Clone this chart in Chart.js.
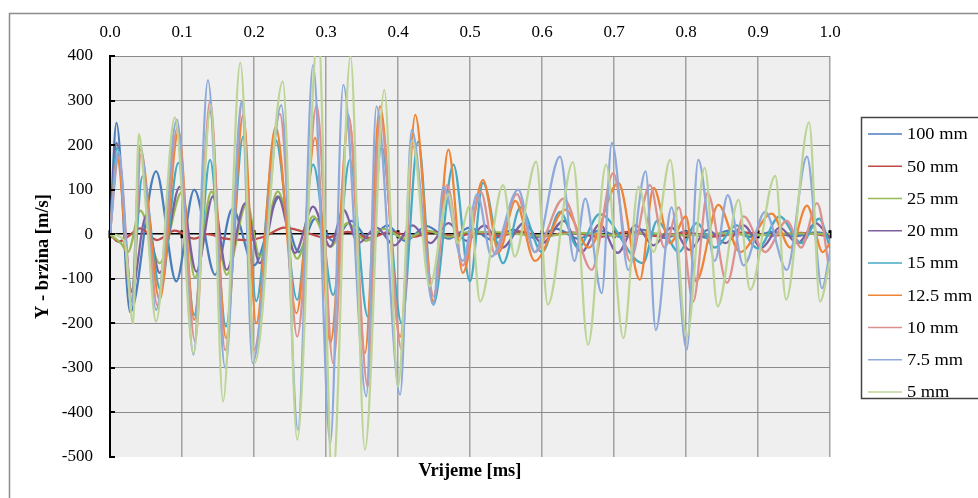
<!DOCTYPE html>
<html>
<head>
<meta charset="utf-8">
<script src="https://cdn.jsdelivr.net/npm/chart.js@4.4.1/dist/chart.umd.min.js"></script>
<style>
  html, body { margin: 0; padding: 0; background: #fff; }
  #wrap { width: 978px; height: 498px; }
</style>
</head>
<body>
<div id="wrap"><canvas id="chVelocity" width="978" height="498"></canvas></div>
<script>
// series names (legend order)
let seriesNames = ['100 mm', '50 mm', '25 mm', '20 mm', '15 mm', '12.5 mm', '10 mm', '7.5 mm', '5 mm'];
let xTicks = [0, 0.1, 0.2, 0.3, 0.4, 0.5, 0.6, 0.7, 0.8, 0.9, 1.0];
let yTicks = [-500, -400, -300, -200, -100, 0, 100, 200, 300, 400];

// time [ms] / velocity [m/s] (turning points)
let t100 = [0, 0.009, 0.028, 0.064, 0.092, 0.117, 0.146, 0.170, 0.200, 0.235, 0.262, 0.285, 0.310, 0.335, 0.360, 0.385, 0.410, 0.440, 0.470, 0.500, 0.530, 0.560, 0.590, 0.620, 0.650, 0.680, 0.710, 0.740, 0.770, 0.800, 0.830, 0.860, 0.890, 0.920, 0.950, 0.980, 1.0];
let v100 = [0, 250, -175, 141, -106, 100, -91, 57, -70, 83, -40, 35, -15, 30, -12, 20, -15, 18, -10, 15, -12, 10, -8, 12, -10, 8, -6, 10, -8, 6, -8, 8, -6, 5, -5, 4, 0];

let t50 = [0, 0.012, 0.025, 0.042, 0.065, 0.090, 0.117, 0.135, 0.160, 0.190, 0.215, 0.242, 0.270, 0.300, 0.330, 0.360, 0.390, 0.420, 0.450, 0.480, 0.510, 0.540, 0.570, 0.600, 0.640, 0.680, 0.720, 0.760, 0.800, 0.840, 0.880, 0.920, 0.960, 1.0];
let v50 = [0, -17, -5, 13, -13, 8, -10, 0, -10, -13, -5, 15, 5, -8, 5, -8, 6, -6, 5, -5, 4, -4, 6, -5, 4, -6, 5, -4, 3, -5, 4, -3, 3, -5];

let t25 = [0, 0.015, 0.025, 0.042, 0.069, 0.100, 0.118, 0.141, 0.162, 0.190, 0.208, 0.233, 0.260, 0.282, 0.306, 0.330, 0.355, 0.380, 0.410, 0.440, 0.470, 0.500, 0.550, 0.600, 0.650, 0.700, 0.750, 0.800, 0.850, 0.900, 0.950, 1.0];
let v25 = [0, -20, -40, 53, -65, 95, -98, 96, -91, 70, -50, 96, -55, 40, -28, 25, -15, 12, -10, 8, -6, 5, 3, -4, 3, -3, 2, -3, 2, -2, 2, 0];

let t20 = [0, 0.009, 0.030, 0.050, 0.069, 0.097, 0.120, 0.143, 0.162, 0.188, 0.208, 0.233, 0.257, 0.282, 0.306, 0.324, 0.345, 0.370, 0.395, 0.420, 0.445, 0.470, 0.495, 0.520, 0.545, 0.575, 0.600, 0.630, 0.655, 0.680, 0.705, 0.730, 0.755, 0.780, 0.805, 0.830, 0.855, 0.880, 0.905, 0.930, 0.955, 0.980, 1.0];
let v20 = [0, 205, -129, 40, -87, 107, -84, 85, -80, 70, -65, 85, -42, 62, -28, 55, -20, 15, -25, 20, -20, 25, -15, 20, -30, 25, -20, 30, -40, 22, -42, 20, -25, 15, -35, 10, -20, 20, -30, 15, -20, 25, -10];

let t15 = [0, 0.010, 0.030, 0.045, 0.070, 0.095, 0.117, 0.139, 0.161, 0.185, 0.203, 0.230, 0.260, 0.282, 0.310, 0.333, 0.358, 0.377, 0.405, 0.428, 0.449, 0.477, 0.500, 0.518, 0.546, 0.570, 0.600, 0.625, 0.650, 0.680, 0.740, 0.760, 0.790, 0.815, 0.840, 0.870, 0.900, 0.930, 0.960, 0.985, 1.0];
let v15 = [0, 195, -125, 130, -125, 160, -181, 167, -207, 219, -150, 212, -147, 156, -136, 167, -185, 197, -200, 208, -158, 156, -106, 115, -65, 60, -40, 50, -30, 45, -65, 30, -40, 25, -30, 20, -32, 40, -20, 35, -30];

let t125 = [0, 0.010, 0.030, 0.042, 0.069, 0.095, 0.117, 0.139, 0.161, 0.185, 0.203, 0.230, 0.259, 0.285, 0.306, 0.332, 0.354, 0.375, 0.403, 0.424, 0.449, 0.470, 0.490, 0.518, 0.540, 0.563, 0.590, 0.632, 0.665, 0.706, 0.736, 0.755, 0.778, 0.800, 0.814, 0.845, 0.875, 0.919, 0.945, 0.968, 0.990, 1.0];
let v125 = [0, 170, -151, 190, -147, 230, -192, 275, -233, 268, -200, 241, -177, 216, -244, 260, -267, 287, -230, 268, -151, 190, -87, 122, -40, 75, -60, 55, -30, 115, -102, 104, -20, 40, -106, 66, -40, 46, -30, 64, -40, -20];

let t10 = [0, 0.012, 0.031, 0.043, 0.066, 0.094, 0.118, 0.139, 0.160, 0.184, 0.200, 0.236, 0.260, 0.287, 0.310, 0.331, 0.358, 0.375, 0.405, 0.420, 0.450, 0.468, 0.490, 0.515, 0.535, 0.565, 0.590, 0.630, 0.669, 0.699, 0.722, 0.750, 0.770, 0.790, 0.810, 0.830, 0.857, 0.880, 0.910, 0.940, 0.960, 0.982, 1.0];
let v10 = [0, 175, -150, 180, -160, 240, -240, 300, -260, 298, -260, 270, -230, 290, -290, 268, -342, 264, -259, 200, -140, 110, -70, 95, -45, 90, -40, 80, -80, 137, -60, 110, -30, 60, -151, 93, -109, 40, -40, 30, -30, 70, -90];

let t75 = [0, 0.012, 0.030, 0.042, 0.064, 0.093, 0.116, 0.136, 0.160, 0.183, 0.198, 0.238, 0.261, 0.282, 0.306, 0.324, 0.356, 0.370, 0.403, 0.419, 0.449, 0.463, 0.490, 0.510, 0.530, 0.567, 0.590, 0.625, 0.645, 0.660, 0.683, 0.697, 0.720, 0.744, 0.758, 0.780, 0.801, 0.817, 0.840, 0.858, 0.880, 0.910, 0.940, 0.968, 0.989, 1.0];
let v75 = [0, 185, -160, 200, -170, 257, -270, 346, -300, 300, -289, 290, -439, 380, -469, 335, -364, 287, -360, 234, -158, 107, -60, 90, -50, 100, -40, 174, -60, 80, -132, 205, -80, 141, -215, 60, -259, 167, -60, 88, -70, 50, -80, 174, -121, -40];

let t5 = [0, 0.020, 0.032, 0.040, 0.050, 0.064, 0.090, 0.116, 0.140, 0.157, 0.181, 0.201, 0.240, 0.260, 0.289, 0.309, 0.334, 0.354, 0.381, 0.400, 0.420, 0.444, 0.470, 0.483, 0.500, 0.514, 0.546, 0.562, 0.592, 0.608, 0.643, 0.664, 0.689, 0.713, 0.734, 0.755, 0.778, 0.801, 0.826, 0.844, 0.873, 0.889, 0.924, 0.939, 0.971, 0.986, 1.0];
let v5 = [0, -15, -200, 225, 60, -196, 262, -267, 290, -375, 385, -289, 343, -461, 460, -560, 400, -484, 324, -342, 210, -117, 90, -20, 65, -151, 110, -50, 163, -158, 162, -248, 156, -233, 107, -40, 167, -230, 149, -162, 77, -125, 131, -147, 251, -151, -60];

let allTimes = [t100, t50, t25, t20, t15, t125, t10, t75, t5];
let allValues = [v100, v50, v25, v20, v15, v125, v10, v75, v5];
let colors = ['#4a7ebb', '#be4b48', '#98b954', '#7d60a0', '#46aac5', '#ee8436', '#dc918e', '#8eaadb', '#bcd596'];

const serif = 'Liberation Serif, Times New Roman, serif';

function toPoints(ts, vs) {
  let pts = [];
  for (let i = 0; i < ts.length; i++) pts.push({ x: ts[i], y: vs[i] });
  return pts;
}

let datasets = seriesNames.map((name, i) => ({
  label: name,
  data: toPoints(allTimes[i], allValues[i]),
  borderColor: colors[i],
  backgroundColor: colors[i],
  borderWidth: 2.25,
  pointRadius: 0,
  cubicInterpolationMode: 'monotone',
  order: seriesNames.length - i, // last series on top, like excel
  xAxisID: 'x',
  yAxisID: 'y'
}));

// frame, plot background, axis ticks and the legend box
const decor = {
  id: 'decor',
  beforeDraw(chart) {
    const c = chart.ctx, a = chart.chartArea;
    c.save();
    c.fillStyle = '#fff';
    c.fillRect(0, 0, chart.width, chart.height);
    c.strokeStyle = '#8c8c8c';
    c.lineWidth = 1.5;
    c.strokeRect(9.5, 13.5, 1200, 800);
    c.fillStyle = '#efefef';
    c.fillRect(a.left, a.top, a.right - a.left, a.bottom - a.top);
    c.restore();
  },
  beforeDatasetsDraw(chart) {
    const c = chart.ctx;
    const xs = chart.scales.x, ys = chart.scales.y;
    const y0 = ys.getPixelForValue(0);
    c.save();
    c.fillStyle = '#000';
    xTicks.forEach(t => {
      const px = xs.getPixelForValue(t);
      c.fillRect(px - 1.5, y0 - 4, 3, 8);
    });
    c.restore();
  },
  afterDraw(chart) {
    const c = chart.ctx, a = chart.chartArea;
    const ys = chart.scales.y;
    c.save();
    c.strokeStyle = '#000';
    c.lineWidth = 2;
    yTicks.forEach(v => {
      const py = Math.round(ys.getPixelForValue(v));
      c.beginPath();
      c.moveTo(a.left, py);
      c.lineTo(a.left + 5, py);
      c.stroke();
    });
    // legend
    const lx = 861, ly = 117, rowH = 32.25;
    c.strokeStyle = '#444';
    c.lineWidth = 1.5;
    c.strokeRect(lx + 0.5, ly + 0.5, 200, 281);
    c.font = '17px ' + serif;
    c.textBaseline = 'middle';
    c.fillStyle = '#000';
    chart.data.datasets.forEach((ds, i) => {
      const ry = ly + 17 + i * rowH;
      c.strokeStyle = ds.borderColor;
      c.lineWidth = 1.5;
      c.beginPath();
      c.moveTo(lx + 7, ry);
      c.lineTo(lx + 41, ry);
      c.stroke();
      c.save();
      c.translate(lx + 46, ry + 1);
      c.scale(1.08, 1);
      c.fillText(ds.label, 0, 0);
      c.restore();
    });
    c.restore();
  }
};

function drawChart() {
  const el = document.getElementById('chVelocity');
  new Chart(el, {
    type: 'line',
    data: { datasets: datasets },
    plugins: [decor],
    options: {
      responsive: false,
      animation: false,
      layout: { padding: { left: 0, right: 148, top: 0, bottom: 0 } },
      plugins: { legend: { display: false }, tooltip: { enabled: false } },
      scales: {
        x: {
          type: 'linear', position: 'top', min: 0, max: 1,
          afterFit(s) { s.height = 56; },
          afterBuildTicks(s) { s.ticks = xTicks.map(v => ({ value: v })); },
          ticks: { color: '#000', font: { family: serif, size: 17 }, padding: 12.8, callback: v => Number(v).toFixed(1) },
          grid: { drawTicks: false, lineWidth: 1.5, color: c => c.tick && c.tick.value === 0 ? 'rgba(0,0,0,0)' : '#a2a2a2' },
          border: { display: false }
        },
        x2: {
          type: 'linear', position: 'bottom', min: 0, max: 1,
          afterFit(s) { s.height = 41; },
          ticks: { display: false },
          grid: { display: false, drawTicks: false },
          border: { display: false },
          title: { display: true, text: 'Vrijeme [ms]', color: '#000', font: { family: serif, size: 18.5, weight: 'bold' }, padding: { top: 0, bottom: 15.9 } }
        },
        y: {
          min: -500, max: 400,
          afterFit(s) { s.width = 110; },
          afterBuildTicks(s) { s.ticks = yTicks.map(v => ({ value: v })); },
          ticks: { color: '#000', font: { family: serif, size: 17 }, padding: 17 },
          grid: {
            drawTicks: false,
            color: c => {
              if (!c.tick) return '#8a8a8a';
              if (c.tick.value === 0) return '#000';
              if (c.tick.value === -500) return 'rgba(0,0,0,0)';
              return '#8a8a8a';
            },
            lineWidth: c => c.tick && c.tick.value === 0 ? 1.5 : 1
          },
          border: { color: '#000', width: 2 },
          title: { display: true, text: 'Y - brzina [m/s]', color: '#000', font: { family: serif, size: 18.5, weight: 'bold' }, padding: { top: 31.9, bottom: 0 } }
        }
      }
    }
  });
}

window.onload = function() {
  try {
    drawChart();
  } catch (err) {
    console.log('chart failed - ' + err);
  }
};
</script>
</body>
</html>
